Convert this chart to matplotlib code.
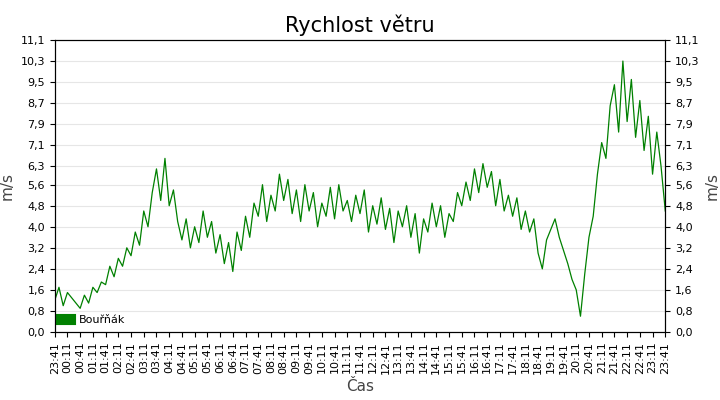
import matplotlib
matplotlib.use("Agg")
import matplotlib.pyplot as plt
import numpy as np

# wind speed, 10-minute steps starting 23:41
speed = [
    1.2, 1.7, 1.0, 1.5, 1.3, 1.1,
    0.9, 1.4, 1.1, 1.7, 1.5, 1.9,
    1.8, 2.5, 2.1, 2.8, 2.5, 3.2,
    2.9, 3.8, 3.3, 4.6, 4.0, 5.3,
    6.2, 5.0, 6.6, 4.8, 5.4, 4.2,
    3.5, 4.3, 3.2, 4.0, 3.4, 4.6,
    3.6, 4.2, 3.0, 3.7, 2.6, 3.4,
    2.3, 3.8, 3.1, 4.4, 3.6, 4.9,
    4.4, 5.6, 4.2, 5.2, 4.6, 6.0,
    5.0, 5.8, 4.5, 5.4, 4.2, 5.6,
    4.6, 5.3, 4.0, 4.9, 4.4, 5.5,
    4.3, 5.6, 4.6, 5.0, 4.2, 5.2,
    4.5, 5.4, 3.8, 4.8, 4.1, 5.1,
    3.9, 4.7, 3.4, 4.6, 4.0, 4.8,
    3.6, 4.5, 3.0, 4.3, 3.8, 4.9,
    4.0, 4.8, 3.6, 4.5, 4.2, 5.3,
    4.8, 5.7, 5.0, 6.2, 5.3, 6.4,
    5.5, 6.1, 4.8, 5.8, 4.6, 5.2,
    4.4, 5.1, 3.9, 4.6, 3.8, 4.3,
    3.0, 2.4, 3.5, 3.9, 4.3, 3.6,
    3.1, 2.6, 2.0, 1.6, 0.6, 2.2,
    3.6, 4.4, 6.0, 7.2, 6.6, 8.6,
    9.4, 7.6, 10.3, 8.0, 9.6, 7.4,
    8.8, 6.9, 8.2, 6.0, 7.6, 6.3,
    4.6,
]
y_ticks = [0, 0.8, 1.6, 2.4, 3.2, 4.0, 4.8, 5.6, 6.3, 7.1, 7.9, 8.7, 9.5, 10.3, 11.1]
start_min = 23 * 60 + 41

minutes = np.arange(len(speed)) * 10
tick_pos = np.arange(0, 1441, 30)
tick_lbl = ["%02d:%02d" % (((start_min + t) // 60) % 24, (start_min + t) % 60) for t in tick_pos]
y_lbl = [("%.1f" % v).replace(".", ",") for v in y_ticks]

fig = plt.figure(figsize=(7.2, 4), dpi=100)
ax = fig.add_axes([0.076, 0.17, 0.848, 0.73])
ax.plot(minutes, speed, color="#008000", lw=0.9, label="Bouřňák")
ax.set_xlim(0, 1440)
ax.set_ylim(0, 11.1)
ax.set_yticks(y_ticks)
ax.set_yticklabels(y_lbl, fontsize=8)
ax.set_xticks(tick_pos)
ax.set_xticklabels(tick_lbl, rotation=90, fontsize=8)
ax.grid(axis="y", color="#e6e6e6", lw=0.8)
ax.set_axisbelow(True)
ax.set_ylabel("m/s", fontsize=11, color="#444444")
ax.set_xlabel("Čas", fontsize=11, color="#444444")
ax.set_title("Rychlost větru", fontsize=15)

ax2 = ax.twinx()
ax2.set_ylim(0, 11.1)
ax2.set_yticks(y_ticks)
ax2.set_yticklabels(y_lbl, fontsize=8)
ax2.set_ylabel("m/s", fontsize=11, color="#444444")

ax.legend(loc="lower left", fontsize=8, frameon=False, handlelength=0.8,
          handleheight=0.8, borderaxespad=0.2,
          handler_map=None)
leg = ax.get_legend()
for h in leg.legend_handles:
    h.set_linewidth(8)

fig.savefig("out.png", dpi=100)
